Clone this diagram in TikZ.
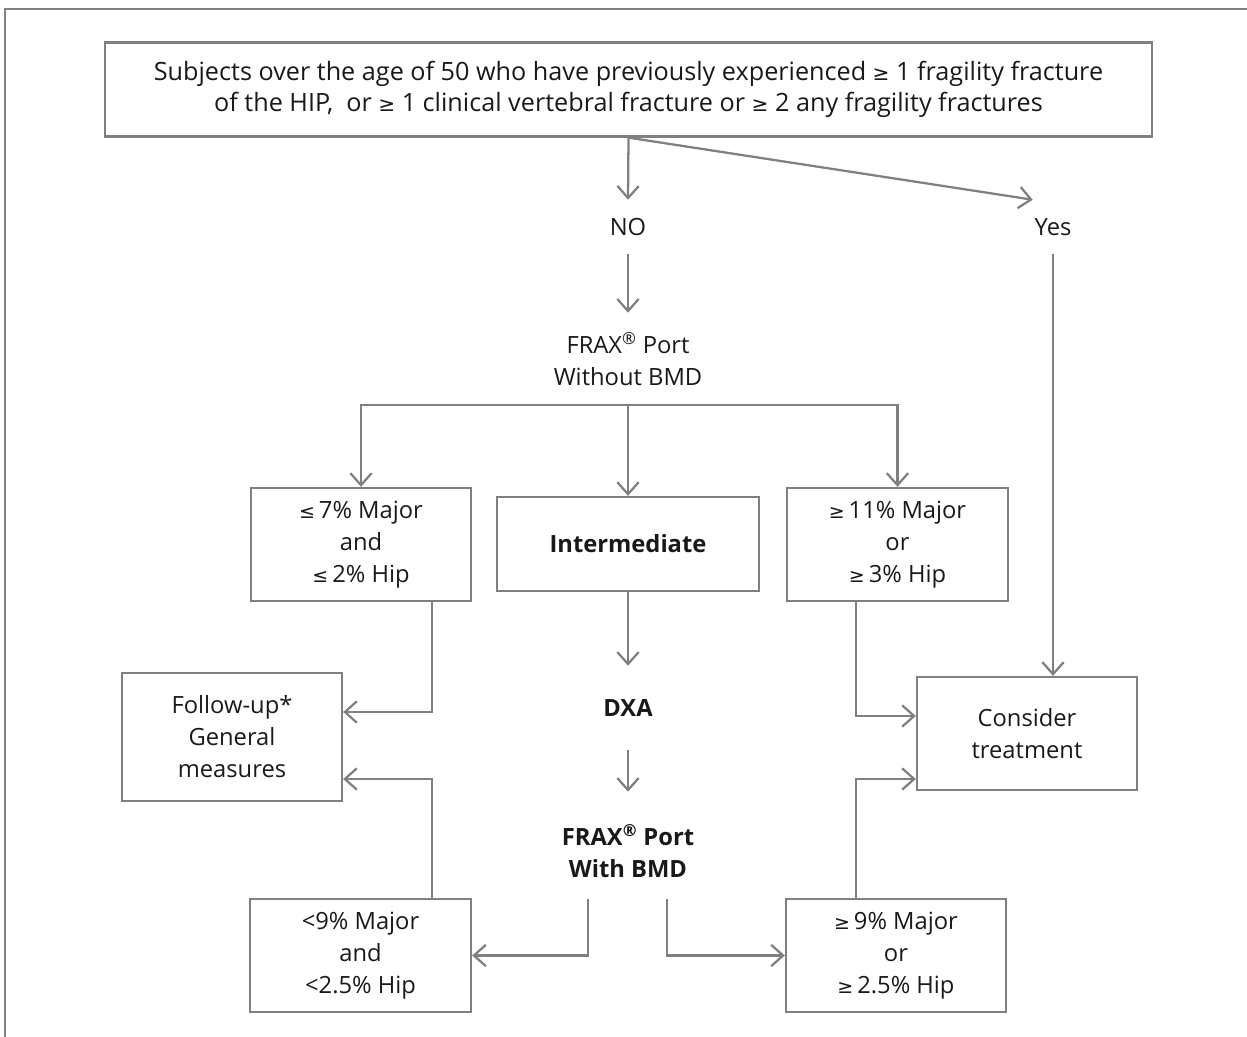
\documentclass[tikz,border=0pt]{standalone}
\usepackage{fontspec}
\setmainfont{Open Sans}
\newfontfamily\symf{DejaVu Sans}[Scale=0.8]
\usetikzlibrary{arrows.meta,calc}
\definecolor{lc}{RGB}{128,128,131}
\definecolor{tc}{RGB}{25,25,25}
\newcommand\mge{{\symf ≥}}
\newcommand\mle{{\symf ≤}}
\begin{document}
\begin{tikzpicture}[x=0.75pt,y=-0.75pt,
  every node/.style={font=\fontsize{17.8}{24}\selectfont, text=tc},
  box/.style={draw=lc, line width=1.7pt, align=center, inner sep=0pt},
  lbl/.style={align=center, inner sep=0pt},
  arr/.style={draw=lc, line width=1.7pt, -{Straight Barb[length=9pt,width=16pt]}},
  ln/.style={draw=lc, line width=1.7pt}]
\useasboundingbox (0,0) rectangle (1247,1037);
\draw[ln] (5,1037) -- (5,9) -- (1247,9);

\node[box, minimum width=785.25pt, minimum height=70.5pt, font=\fontsize{18.9}{23.5}\selectfont] (top) at (628.5,89.5)
  {Subjects over the age of 50 who have previously experienced \mge\ 1 fragility fracture\\
   of the HIP,\ \ or \mge\ 1 clinical vertebral fracture or \mge\ 2 any fragility fractures};
\node[lbl, minimum height=40.5pt] (no) at (628,227) {NO};
\node[lbl, minimum height=40.5pt, minimum width=30pt] (yes) at (1053,227) {Yes};
\node[lbl, minimum height=69pt] (frax1) at (628,359) {FRAX\textsuperscript{®} Port\\Without BMD};
\node[box, minimum width=165pt, minimum height=84.75pt] (low) at (361,544.5)
  {\mle\,7\% Major\\and\\\mle\,2\% Hip};
\node[box, minimum width=196.5pt, minimum height=70.5pt] (inter) at (628,544)
  {\textbf{Intermediate}};
\node[box, minimum width=165.75pt, minimum height=84.75pt] (high) at (897.5,544.5)
  {\mge\,11\% Major\\or\\\mge\,3\% Hip};
\node[box, minimum width=165pt, minimum height=96pt] (follow) at (232,737)
  {Follow-up*\\General\\measures};
\node[lbl, minimum height=63pt] (dxa) at (628,708) {\textbf{DXA}};
\node[box, minimum width=165pt, minimum height=84.75pt] (consider) at (1027,733.5)
  {Consider\\treatment};
\node[lbl, minimum height=88.5pt, font=\fontsize{17.8}{24}\selectfont\bfseries] (frax2) at (628,851)
  {FRAX\textsuperscript{®} Port\\With BMD};
\node[box, minimum width=165.75pt, minimum height=84.75pt] (lowb) at (360.5,955.5)
  {<9\% Major\\and\\<2.5\% Hip};
\node[box, minimum width=165pt, minimum height=84.75pt] (highb) at (896,955.5)
  {\mge\,9\% Major\\or\\\mge\,2.5\% Hip};

\draw[arr] (top.south) -- (no.north);
\draw[arr] (top.south) -- (yes.north west);
\draw[arr] (no.south) -- (frax1.north);
\draw[arr] (frax1.south) -- (inter.north);
\draw[arr] (frax1.south) -| (low.north);
\draw[arr] (frax1.south) -| (high.north);
\draw[arr] (yes.south) -- (yes.south |- consider.north);
\draw[arr] ($(low.south east)+(-40,0)$) |- ($(follow.east)+(0,-25)$);
\draw[arr] ($(lowb.north east)+(-40,0)$) |- ($(follow.east)+(0,42)$);
\draw[arr] ($(high.south west)+(70,0)$) |- ($(consider.west)+(0,-17.5)$);
\draw[arr] ($(highb.north west)+(71,0)$) |- ($(consider.west)+(0,45.5)$);
\draw[arr] (inter.south) -- (dxa.north);
\draw[arr] (dxa.south) -- (frax2.north);
\draw[arr] ($(frax2.south)+(-40,-11)$) |- (lowb.east);
\draw[arr] ($(frax2.south)+(39,-11)$) |- (highb.west);
\end{tikzpicture}
\end{document}
